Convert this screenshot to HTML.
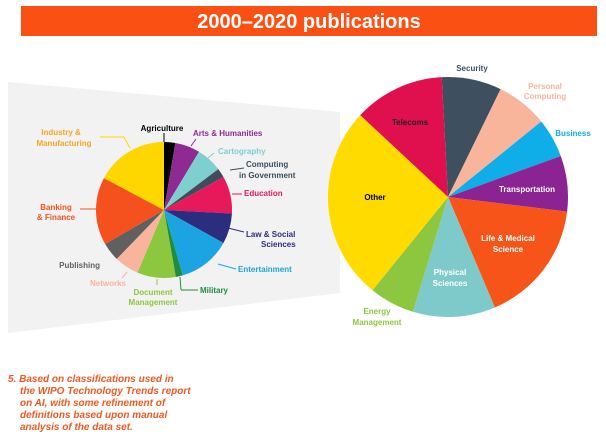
<!DOCTYPE html>
<html><head><meta charset="utf-8"><style>
html,body{margin:0;padding:0;background:#fff;width:606px;height:439px;overflow:hidden}
svg{display:block}
text{font-family:"Liberation Sans",Arial,sans-serif;font-weight:bold}
</style></head><body>
<svg id="s" width="606" height="439" viewBox="0 0 606 439" xmlns="http://www.w3.org/2000/svg">
<rect x="0" y="0" width="606" height="439" fill="#fff"/>
<rect x="21" y="6" width="576" height="30" fill="#fb5014"/>
<text x="309" y="28" font-size="20" fill="#fff" text-anchor="middle">2000–2020 publications</text>
<polygon points="8,82 340,112 340,293 8,333" fill="#f2f2f2"/>
<g id="small"></g>
<g id="big"></g>
<g font-size="8" >
<!-- small pie labels -->
<text x="61" y="135" fill="#f5a623" text-anchor="middle">Industry &amp;</text>
<text x="64" y="146" fill="#f5a623" text-anchor="middle">Manufacturing</text>
<text x="162" y="131" fill="#000" text-anchor="middle">Agriculture</text>
<text x="193" y="136" fill="#8e2a92">Arts &amp; Humanities</text>
<text x="218" y="154" fill="#7fcfcf">Cartography</text>
<text x="246" y="167" fill="#3d4d5c">Computing</text>
<text x="239" y="178" fill="#3d4d5c">in Government</text>
<text x="244" y="196" fill="#e8195a">Education</text>
<text x="246" y="237" fill="#2b2d7e">Law &amp; Social</text>
<text x="261" y="247" fill="#2b2d7e">Sciences</text>
<text x="238" y="272" fill="#1ca4e2">Entertainment</text>
<text x="200" y="293" fill="#1e8e3e">Military</text>
<text x="153" y="295" fill="#8dc63f" text-anchor="middle">Document</text>
<text x="153" y="305" fill="#8dc63f" text-anchor="middle">Management</text>
<text x="108" y="286" fill="#f8b49c" text-anchor="middle">Networks</text>
<text x="100" y="268" fill="#606060" text-anchor="end">Publishing</text>
<text x="56" y="210" fill="#f5511e" text-anchor="middle">Banking</text>
<text x="56" y="220" fill="#f5511e" text-anchor="middle">&amp; Finance</text>
<!-- big pie labels -->
<text x="472" y="71" fill="#3e5060" text-anchor="middle">Security</text>
<text x="545" y="89" fill="#f9b49c" text-anchor="middle" font-weight="normal">Personal</text>
<text x="545" y="99" fill="#f9b49c" text-anchor="middle" font-weight="normal">Computing</text>
<text x="573" y="136" fill="#10aee8" text-anchor="middle">Business</text>
<text x="410" y="125" fill="#222" text-anchor="middle">Telecoms</text>
<text x="527" y="192" fill="#fff" text-anchor="middle">Transportation</text>
<text x="375" y="200" fill="#000" text-anchor="middle">Other</text>
<text x="508" y="241" fill="#fff" text-anchor="middle">Life &amp; Medical</text>
<text x="508" y="252" fill="#fff" text-anchor="middle">Science</text>
<text x="450" y="275" fill="#fff" text-anchor="middle">Physical</text>
<text x="450" y="286" fill="#fff" text-anchor="middle">Sciences</text>
<text x="377" y="314" fill="#8dc63f" text-anchor="middle">Energy</text>
<text x="377" y="325" fill="#8dc63f" text-anchor="middle">Management</text>
</g>
<g stroke-width="1" fill="none">
<line x1="124" y1="137" x2="130" y2="148" stroke="#ffd700"/>
<line x1="100" y1="137" x2="124" y2="137" stroke="#ffd700"/>
<line x1="164" y1="133" x2="164" y2="142" stroke="#000"/>
<line x1="196" y1="139" x2="191" y2="146" stroke="#8e2a92"/>
<line x1="214" y1="153" x2="208" y2="158" stroke="#7fcfcf"/>
<line x1="244" y1="168" x2="230" y2="170" stroke="#3d4d5c"/>
<line x1="242" y1="194" x2="232" y2="194" stroke="#e8195a"/>
<line x1="244" y1="232" x2="228" y2="228" stroke="#2b2d7e"/>
<line x1="236" y1="269" x2="218" y2="264" stroke="#1ca4e2"/>
<line x1="198" y1="290" x2="181" y2="290" stroke="#1e8e3e"/>
<line x1="181" y1="290" x2="180" y2="277" stroke="#1e8e3e"/>
<line x1="157" y1="285" x2="157" y2="279" stroke="#8dc63f"/>
<line x1="122" y1="278" x2="127" y2="272" stroke="#f8b49c"/>
<line x1="80" y1="209" x2="96" y2="209" stroke="#f5511e"/>
</g>
<g font-size="10" font-style="italic" fill="#f05a22">
<text x="8" y="382">5. Based on classifications used in</text>
<text x="20" y="394">the WIPO Technology Trends report</text>
<text x="20" y="406">on AI, with some refinement of</text>
<text x="20" y="418">definitions based upon manual</text>
<text x="20" y="430">analysis of the data set.</text>
</g>
</svg>
<script>
function pie(g,cx,cy,r,data){
  var ns="http://www.w3.org/2000/svg",el=document.getElementById(g);
  for(var i=0;i<data.length;i++){
    var a0=data[i][0]*Math.PI/180,a1=data[i][1]*Math.PI/180;
    var x0=cx+r*Math.sin(a0),y0=cy-r*Math.cos(a0),x1=cx+r*Math.sin(a1),y1=cy-r*Math.cos(a1);
    var large=(data[i][1]-data[i][0])>180?1:0;
    var p=document.createElementNS(ns,"path");
    p.setAttribute("d","M"+cx+","+cy+" L"+x0+","+y0+" A"+r+","+r+" 0 "+large+" 1 "+x1+","+y1+" Z");
    p.setAttribute("fill",data[i][2]);
    el.appendChild(p);
  }
}
pie("small",164,210,68,[
 [0,9.6,"#000"],[9.6,31,"#8e2a92"],[31,53,"#7fcfcf"],[53,61,"#3d4d5c"],
 [61,93,"#e8195a"],[93,119,"#2b2d7e"],[119,164,"#1ca4e2"],[164,170,"#1e8e3e"],
 [170,203,"#8dc63f"],[203,224,"#f8b49c"],[224,240,"#606060"],[240,298,"#f5511e"],[298,360,"#ffd700"]]);
pie("big",448,197,120,[
 [-3,26,"#3e5060"],[26,51,"#f9b49c"],[51,70,"#10aee8"],[70,97,"#8b2393"],
 [97,157,"#f75419"],[157,197,"#7ecacb"],[197,219,"#8dc63f"],[219,313,"#ffdb00"],[313,357,"#e0104f"]]);
</script>
</body></html>
